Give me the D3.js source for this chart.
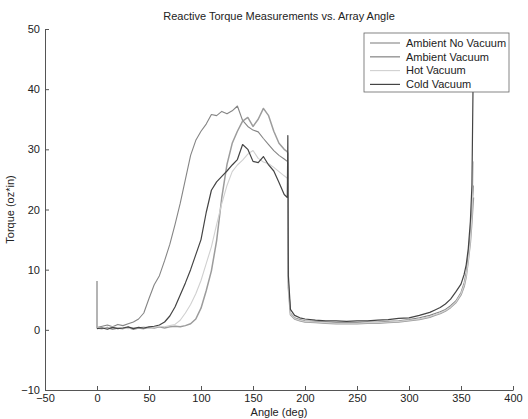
<!DOCTYPE html>
<html>
<head>
<meta charset="utf-8">
<script src="https://cdn.jsdelivr.net/npm/d3@7"></script>
<style>
  body { margin: 0; background: #fff; }
  text { font-family: "Liberation Sans", Arial, sans-serif; }
</style>
</head>
<body>
<div id="chart"></div>
<script>
// shared angle samples (deg)
const angles = [0, 0, 5, 10, 15, 20, 25, 30, 35, 40, 45, 50, 55, 60, 65, 70, 75, 80, 85, 90,
  95, 100, 105, 110, 115, 120, 125, 130, 135, 140, 145, 150, 155, 160, 165, 170, 175, 180,
  183, 183.5, 184, 186, 190, 195, 200, 210, 220, 230, 240, 250, 260, 270, 280, 290, 300, 310,
  320, 325, 330, 335, 340, 345, 350, 353, 355, 357, 359, 360.5, 362];

const ambientNoVacuum = [0.4, 0.4, 0.6, 0.8, 0.5, 0.9, 0.7, 1.0, 1.3, 1.8, 2.8, 5.2, 7.5, 9.0, 11.5, 14.2, 17.5, 21, 25, 29,
  31.5, 33, 34.2, 35.8, 35.6, 36.3, 35.9, 36.4, 37.2, 34.8, 33.8, 33.2, 32.9, 31.8, 30.8, 29.8, 29.0, 28.4,
  28.0, 27.8, 8.0, 2.8, 2.0, 1.7, 1.5, 1.4, 1.3, 1.2, 1.2, 1.2, 1.3, 1.3, 1.4, 1.5, 1.7, 2.0,
  2.4, 2.7, 3.0, 3.4, 4.0, 4.8, 6.2, 7.8, 9.5, 12.5, 16, 20, 24];

const ambientVacuum = [8.1, 0.3, 0.2, 0.4, 0.1, 0.3, 0.2, 0.4, 0.1, 0.3, 0.2, 0.4, 0.3, 0.5, 0.3, 0.5, 0.6, 0.5, 0.7, 1.0,
  1.8, 3.6, 6.5, 9.8, 14.8, 22, 27.5, 31, 33, 34.7, 35.3, 33.8, 35, 36.8, 35.6, 33, 31, 30,
  29.6, 29.3, 7, 2.5, 1.8, 1.5, 1.3, 1.2, 1.1, 1.0, 1.0, 1.0, 1.1, 1.1, 1.2, 1.3, 1.5, 1.7,
  2.1, 2.4, 2.7, 3.1, 3.7, 4.5, 5.8, 7.2, 8.8, 11.5, 14.5, 18, 22];

const hotVacuum = [0.3, 0.3, 0.4, 0.2, 0.5, 0.3, 0.4, 0.2, 0.4, 0.3, 0.5, 0.3, 0.4, 0.6, 0.5, 0.7, 0.9, 1.6, 2.8, 4.2,
  6.0, 8.2, 11, 13.8, 17.5, 21, 24, 26.3, 27.4, 28.2, 29.2, 29.8, 28.5, 27.9, 27.6, 27, 26.3, 25.6,
  25.2, 25, 7, 2.6, 1.9, 1.6, 1.4, 1.3, 1.2, 1.1, 1.1, 1.1, 1.2, 1.2, 1.3, 1.4, 1.6, 1.8,
  2.2, 2.5, 2.8, 3.2, 3.8, 4.6, 6.0, 7.5, 9.0, 11.5, 15, 19, 28];

const coldVacuum = [0.2, 0.2, 0.3, 0.1, 0.4, 0.2, 0.3, 0.5, 0.2, 0.4, 0.3, 0.5, 0.6, 0.8, 1.3, 2.3, 3.8, 5.8, 7.8, 10,
  12.5, 15, 19.5, 23.2, 24.6, 25.5, 26.4, 27.4, 28.3, 30.8, 30, 28, 27.8, 28.8, 27.4, 26.4, 24.5, 22.5,
  22, 32.3, 9, 3.4, 2.4, 2.0, 1.8, 1.6, 1.5, 1.5, 1.4, 1.5, 1.5, 1.6, 1.7, 1.9, 2.0, 2.4,
  2.9, 3.3, 3.7, 4.3, 5.1, 6.3, 7.6, 9.2, 10.8, 13.5, 18, 24, 47];

const seriesNames = ['Ambient No Vacuum', 'Ambient Vacuum', 'Hot Vacuum', 'Cold Vacuum'];
const seriesColors = ['#858585', '#9c9c9c', '#d0d0d0', '#444444'];
const seriesWidths = [1.1, 1.5, 1.1, 1.2];
const xTicks = [-50, 0, 50, 100, 150, 200, 250, 300, 350, 400];
const yTicks = [-10, 0, 10, 20, 30, 40, 50];

const width = 528, height = 419;
const margin = {left: 45, right: 15, top: 29, bottom: 29};

const svg = d3.select('#chart').append('svg')
  .attr('width', width)
  .attr('height', height);

const x = d3.scaleLinear().domain([-50, 400]).range([margin.left, width - margin.right]);
const y = d3.scaleLinear().domain([-10, 50]).range([height - margin.bottom, margin.top]);

const series = [ambientNoVacuum, ambientVacuum, hotVacuum, coldVacuum].map((vals, i) => ({
  name: seriesNames[i],
  color: seriesColors[i],
  width: seriesWidths[i],
  points: angles.map((a, j) => [a, vals[j]])
}));

// axes
const xAxis = svg.append('g')
  .attr('transform', `translate(0, ${y(-10)})`)
  .call(d3.axisBottom(x).tickValues(xTicks).tickSizeInner(-4).tickSizeOuter(0).tickPadding(4));

const yAxis = svg.append('g')
  .attr('transform', `translate(${x(-50)}, 0)`)
  .call(d3.axisLeft(y).tickValues(yTicks).tickSizeInner(-4).tickSizeOuter(0).tickPadding(5));

[xAxis, yAxis].forEach(g => {
  g.select('.domain').attr('stroke', '#555');
  g.selectAll('.tick line').attr('stroke', '#555');
  g.selectAll('.tick text').attr('fill', '#222').style('font-size', '11px');
});

// lines
const line = d3.line().x(d => x(d[0])).y(d => y(d[1]));

svg.append('g').selectAll('path')
  .data(series)
  .enter()
  .append('path')
  .attr('d', d => line(d.points))
  .attr('fill', 'none')
  .attr('stroke', d => d.color)
  .attr('stroke-width', d => d.width)
  .attr('stroke-linejoin', 'round');

// titles
svg.append('text')
  .attr('x', (x(-50) + x(400)) / 2)
  .attr('y', 20)
  .attr('text-anchor', 'middle')
  .attr('fill', '#222')
  .style('font-size', '11px')
  .text('Reactive Torque Measurements vs. Array Angle');

svg.append('text')
  .attr('x', (x(-50) + x(400)) / 2)
  .attr('y', 416)
  .attr('text-anchor', 'middle')
  .attr('fill', '#222')
  .style('font-size', '11px')
  .text('Angle (deg)');

svg.append('text')
  .attr('transform', `translate(14, ${(y(-10) + y(50)) / 2}) rotate(-90)`)
  .attr('text-anchor', 'middle')
  .attr('fill', '#222')
  .style('font-size', '11px')
  .text('Torque (oz*in)');

// legend
const legend = svg.append('g').attr('transform', 'translate(364, 33)');
legend.append('rect')
  .attr('width', 145)
  .attr('height', 59)
  .attr('fill', '#fff')
  .attr('stroke', '#666')
  .attr('stroke-width', 0.8);

const item = legend.selectAll('g.item')
  .data(series)
  .enter()
  .append('g')
  .attr('class', 'item')
  .attr('transform', (d, i) => `translate(0, ${10 + i * 13.8})`);

item.append('line')
  .attr('x1', 6).attr('x2', 36)
  .attr('stroke', d => d.color)
  .attr('stroke-width', d => d.width);

item.append('text')
  .attr('x', 42)
  .attr('dy', '0.35em')
  .attr('fill', '#222')
  .style('font-size', '11px')
  .text(d => d.name);
</script>
</body>
</html>
